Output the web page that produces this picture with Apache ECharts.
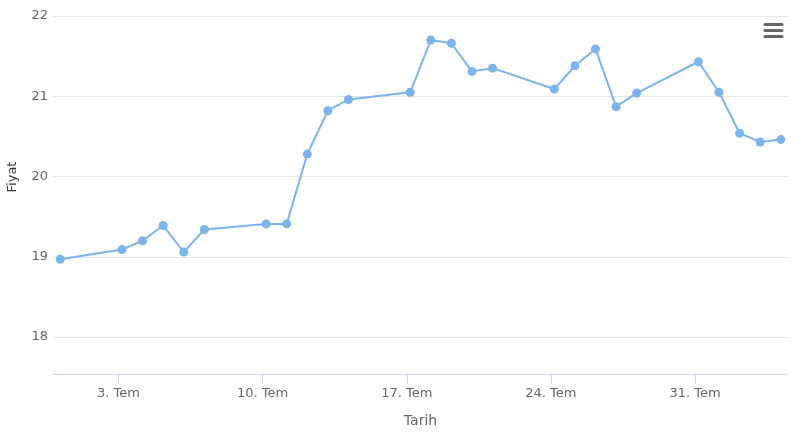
<!DOCTYPE html>
<html><head><meta charset="utf-8">
<script src="https://cdn.jsdelivr.net/npm/echarts@6/dist/echarts.min.js"></script>
<style>html,body{margin:0;padding:0;background:#fff}#c{width:801px;height:438px}</style>
</head><body><div id="c"></div>
<script>
const dates = ['2017-06-30','2017-07-03','2017-07-04','2017-07-05','2017-07-06','2017-07-07',
  '2017-07-10','2017-07-11','2017-07-12','2017-07-13','2017-07-14',
  '2017-07-17','2017-07-18','2017-07-19','2017-07-20','2017-07-21',
  '2017-07-24','2017-07-25','2017-07-26','2017-07-27','2017-07-28',
  '2017-07-31','2017-08-01','2017-08-02','2017-08-03','2017-08-04'];
const prices = [18.97, 19.09, 19.20, 19.39, 19.06, 19.34,
  19.41, 19.41, 20.28, 20.82, 20.96,
  21.05, 21.70, 21.66, 21.31, 21.35,
  21.09, 21.38, 21.59, 20.87, 21.04,
  21.43, 21.05, 20.54, 20.43, 20.46];
const xTickDates = ['2017-07-03','2017-07-10','2017-07-17','2017-07-24','2017-07-31'];
const monthLabel = 'Tem';
const yTicks = [18, 19, 20, 21, 22];
const yMin = 17.54, yMax = 22;
const xTitle = 'Tarih', yTitle = 'Fiyat';

function ts(s, h) { const p = s.split('-').map(Number); return Date.UTC(p[0], p[1]-1, p[2], h || 0); }
const pts = dates.map((d, i) => [ts(d, 4), prices[i]]);
const span = pts[pts.length-1][0] - pts[0][0];
const xMin = pts[0][0] - span * 0.01;
const xMax = pts[pts.length-1][0] + span * 0.01;
const xTicks = xTickDates.map(d => ts(d, 0));

const FONT = 'DejaVu Sans';
const chart = echarts.init(document.getElementById('c'), null, {renderer: 'canvas'});
chart.setOption({
  animation: false,
  backgroundColor: '#ffffff',
  grid: {left: 53, right: 13, top: 16, bottom: 64, containLabel: false},
  xAxis: {
    type: 'value', min: xMin, max: xMax,
    name: xTitle, nameLocation: 'middle', nameGap: 40,
    nameTextStyle: {color: '#666666', fontFamily: FONT, fontSize: 14},
    axisLine: {show: true, lineStyle: {color: '#ccd6eb', width: 1}},
    axisTick: {show: true, length: 10, lineStyle: {color: '#ccd6eb'}, customValues: xTicks},
    axisLabel: {color: '#666666', fontFamily: FONT, fontSize: 13, margin: 13, customValues: xTicks,
      formatter: v => new Date(v).getUTCDate() + '. ' + monthLabel},
    splitLine: {show: false}
  },
  yAxis: {
    type: 'value', min: yMin, max: yMax,
    axisLine: {show: false},
    axisTick: {show: false, customValues: yTicks},
    axisLabel: {color: '#666666', fontFamily: FONT, fontSize: 13, margin: 5, customValues: yTicks},
    splitLine: {show: true, lineStyle: {color: '#e6e6e6', width: 1}}
  },
  series: [{
    type: 'line', data: pts,
    symbol: 'circle', symbolSize: 9, showAllSymbol: true,
    lineStyle: {color: '#7cb5ec', width: 2},
    itemStyle: {color: '#7cb5ec', borderWidth: 0},
    emphasis: {disabled: true}
  }],
  graphic: [
    {type: 'text', x: 13, y: 177, rotation: Math.PI / 2,
      style: {text: yTitle, fill: '#333333', font: '13px "DejaVu Sans"', align: 'center', verticalAlign: 'middle'}},
    {type: 'line', shape: {x1: 765, y1: 24.5, x2: 782, y2: 24.5}, style: {stroke: '#666666', lineWidth: 3, lineCap: 'round'}},
    {type: 'line', shape: {x1: 765, y1: 30.5, x2: 782, y2: 30.5}, style: {stroke: '#666666', lineWidth: 3, lineCap: 'round'}},
    {type: 'line', shape: {x1: 765, y1: 36.5, x2: 782, y2: 36.5}, style: {stroke: '#666666', lineWidth: 3, lineCap: 'round'}}
  ]
});
</script></body></html>
